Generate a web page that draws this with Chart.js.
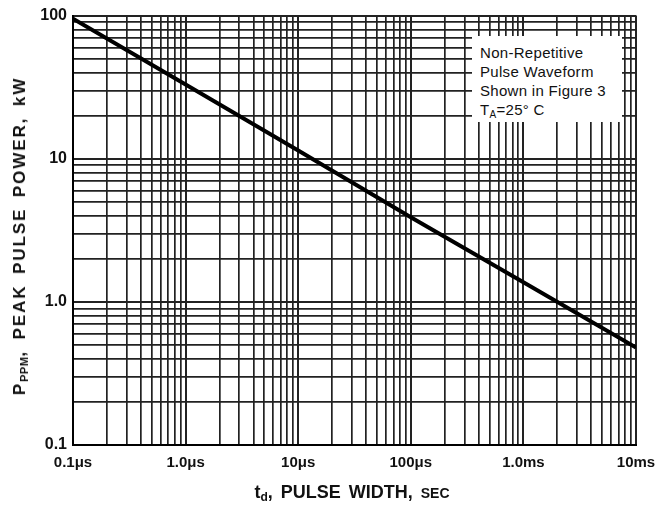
<!DOCTYPE html>
<html>
<head>
<meta charset="utf-8">
<script src="https://cdn.jsdelivr.net/npm/chart.js@4/dist/chart.umd.min.js"></script>
<style>
html,body{margin:0;padding:0;background:#fff;}
#wrap{position:relative;width:655px;height:512px;overflow:hidden;font-family:'Liberation Sans',Arial,sans-serif;color:#111;background:#fff;}
#c{position:absolute;left:0;top:0;}
#ytitle{position:absolute;left:20px;top:236px;transform:translate(-50%,-50%) rotate(-90deg);white-space:nowrap;font-weight:bold;font-size:17px;letter-spacing:1.9px;word-spacing:4px;}
#ytitle sub{font-size:11px;letter-spacing:0.5px;vertical-align:-3px;}
#xtitle{position:absolute;left:352px;top:493px;transform:translate(-50%,-50%);white-space:nowrap;font-weight:bold;font-size:18px;word-spacing:3px;}
#xtitle sub{font-size:12px;vertical-align:-3px;}
#xtitle .sm{font-size:14px;}
#note{position:absolute;left:472px;top:36px;width:150px;height:86px;background:#fff;font-size:15px;letter-spacing:0.3px;line-height:19px;box-sizing:border-box;padding:7px 0 0 8px;white-space:nowrap;color:#111;}
#note sub{font-size:10px;vertical-align:-3px;}
</style>
</head>
<body>
<div id="wrap">
<canvas id="c" width="655" height="512"></canvas>
<div id="ytitle">P<sub>PPM</sub>, PEAK PULSE POWER, kW</div>
<div id="xtitle">t<sub>d</sub>, PULSE WIDTH, <span class="sm">SEC</span></div>
<div id="note">Non-Repetitive<br>Pulse Waveform<br>Shown in Figure 3<br>T<sub>A</sub>=25° C</div>
</div>
<script>
const pulseWidthSec = [1e-7, 1e-6, 1e-5, 1e-4, 1e-3, 1e-2];
const peakPowerKW = [95, 33, 11.4, 3.9, 1.37, 0.48];
const xTickValues = [1e-7, 1e-6, 1e-5, 1e-4, 1e-3, 1e-2];
const xTickLabels = ['0.1μs', '1.0μs', '10μs', '100μs', '1.0ms', '10ms'];
const yTickValues = [0.1, 1, 10, 100];
const yTickLabels = ['0.1', '1.0', '10', '100'];
const gridMultipliers = [1, 2, 3, 4, 5, 6, 7, 8, 9];

function logTicks(min, max) {
  const out = [];
  const e0 = Math.round(Math.log10(min)), e1 = Math.round(Math.log10(max));
  for (let e = e0; e < e1; e++) {
    for (const m of gridMultipliers) out.push({ value: +(m * Math.pow(10, e)).toPrecision(6) });
  }
  out.push({ value: max });
  return out;
}
function labelFor(values, labels, v) {
  const i = values.findIndex(t => Math.abs(Math.log10(t) - Math.log10(v)) < 1e-6);
  return i >= 0 ? labels[i] : '';
}
function isDecade(v) {
  const l = Math.log10(v);
  return Math.abs(l - Math.round(l)) < 1e-6;
}
const FONT = "'Liberation Sans', Arial, sans-serif";
const gridColor = '#222';

new Chart(document.getElementById('c'), {
  type: 'line',
  data: {
    datasets: [{
      data: pulseWidthSec.map((x, i) => ({ x: x, y: peakPowerKW[i] })),
      borderColor: '#000',
      borderWidth: 4,
      pointRadius: 0,
      tension: 0,
      fill: false
    }]
  },
  options: {
    responsive: false,
    animation: false,
    layout: { padding: { top: 13, right: 19, left: 0, bottom: 0 } },
    plugins: { legend: { display: false }, tooltip: { enabled: false } },
    scales: {
      x: {
        type: 'logarithmic',
        min: xTickValues[0],
        max: xTickValues[xTickValues.length - 1],
        afterBuildTicks: s => { s.ticks = logTicks(xTickValues[0], xTickValues[xTickValues.length - 1]); },
        afterFit: s => { s.height = 67; s.paddingRight = 0; s.paddingLeft = 0; },
        grid: {
          color: gridColor,
          lineWidth: ctx => (ctx.tick && isDecade(ctx.tick.value)) ? 2 : 1.7,
          drawTicks: false
        },
        border: { display: true, color: '#000', width: 2 },
        ticks: {
          autoSkip: false, maxRotation: 0, minRotation: 0, padding: 9,
          color: '#111', font: { family: FONT, size: 15, weight: 'bold' },
          callback: v => labelFor(xTickValues, xTickLabels, v)
        }
      },
      y: {
        type: 'logarithmic',
        min: yTickValues[0],
        max: yTickValues[yTickValues.length - 1],
        afterBuildTicks: s => { s.ticks = logTicks(yTickValues[0], yTickValues[yTickValues.length - 1]); },
        afterFit: s => { s.width = 73; },
        grid: {
          color: gridColor,
          lineWidth: ctx => (ctx.tick && isDecade(ctx.tick.value)) ? 2 : 1.7,
          drawTicks: false
        },
        border: { display: true, color: '#000', width: 2 },
        ticks: {
          autoSkip: false, padding: 6,
          color: '#111', font: { family: FONT, size: 16, weight: 'bold' },
          callback: v => labelFor(yTickValues, yTickLabels, v)
        }
      }
    }
  }
});
</script>
</body>
</html>
